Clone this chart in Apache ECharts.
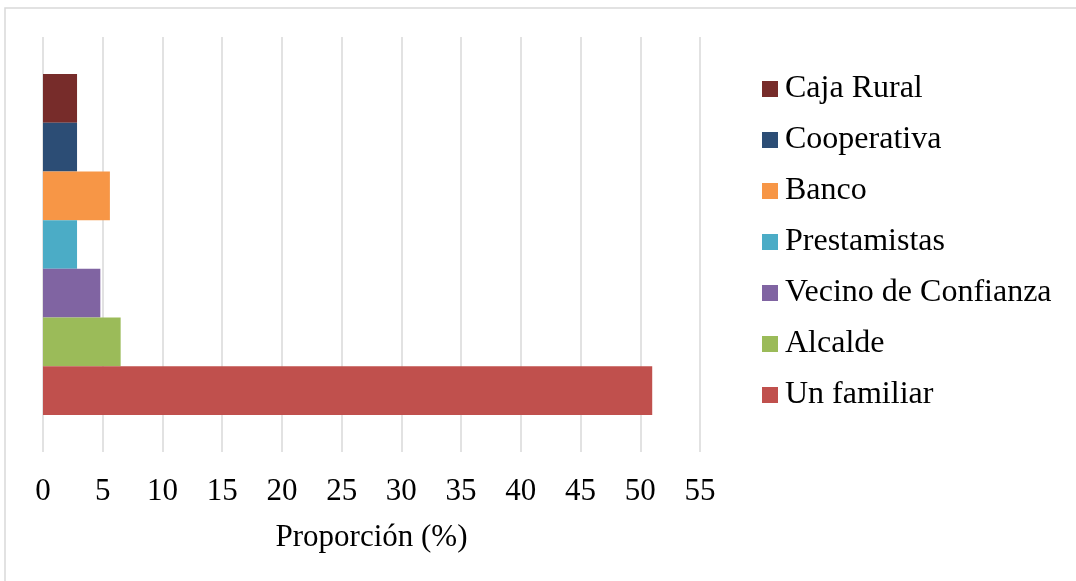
<!DOCTYPE html>
<html>
<head>
<meta charset="utf-8">
<script src="https://cdn.jsdelivr.net/npm/echarts@6/dist/echarts.min.js"></script>
<style>
    html, body { margin: 0; padding: 0; background: #fff; }
    #chart { width: 1076px; height: 581px; }
</style>
</head>
<body>
<div id="chart"></div>
<script>
// top to bottom, as drawn
var seriesNames = ['Caja Rural', 'Cooperativa', 'Banco', 'Prestamistas', 'Vecino de Confianza', 'Alcalde', 'Un familiar'];
var seriesValues = [2.85, 2.85, 5.6, 2.85, 4.8, 6.5, 51.0];
var seriesColors = ['#772C2A', '#2C4D75', '#F79646', '#4BACC6', '#8064A2', '#9BBB59', '#C0504D'];
var xTicks = [0, 5, 10, 15, 20, 25, 30, 35, 40, 45, 50, 55];

var font = '"Liberation Serif", "Times New Roman", serif';

var myChart = echarts.init(document.getElementById('chart'));

var series = seriesNames.map(function (name, i) {
    return {
        name: name,
        type: 'bar',
        color: seriesColors[i],
        barGap: '0%',
        barCategoryGap: '17.8%',
        data: [seriesValues[i]]
    };
});

myChart.setOption({
    animation: false,
    backgroundColor: '#fff',
    graphic: [{
        type: 'rect',
        shape: { x: 5, y: 8, width: 1100, height: 600 },
        style: { fill: null, stroke: '#d9d9d9', lineWidth: 1.5 },
        silent: true
    }],
    grid: {
        left: 43,
        right: 376,
        top: 37,
        bottom: 129
    },
    legend: {
        data: seriesNames,
        orient: 'vertical',
        left: 757,
        top: 68,
        itemWidth: 16,
        itemHeight: 16,
        itemGap: 19,
        icon: 'rect',
        textStyle: {
            fontFamily: font,
            fontSize: 32,
            lineHeight: 32,
            color: '#000',
            padding: [0, 0, 0, 2]
        }
    },
    xAxis: {
        type: 'value',
        min: xTicks[0],
        max: xTicks[xTicks.length - 1],
        interval: 5,
        name: 'Proporción (%)',
        nameLocation: 'middle',
        nameGap: 70,
        nameTextStyle: {
            fontFamily: font,
            fontSize: 31,
            color: '#000'
        },
        axisLine: { show: false },
        axisTick: { show: false },
        axisLabel: {
            fontFamily: font,
            fontSize: 31,
            color: '#000',
            margin: 24
        },
        splitLine: {
            show: true,
            lineStyle: { color: '#d9d9d9', width: 1.5 }
        }
    },
    yAxis: {
        type: 'category',
        data: [''],
        axisLine: { show: false },
        axisTick: { show: false },
        axisLabel: { show: false }
    },
    series: series
});
</script>
</body>
</html>
